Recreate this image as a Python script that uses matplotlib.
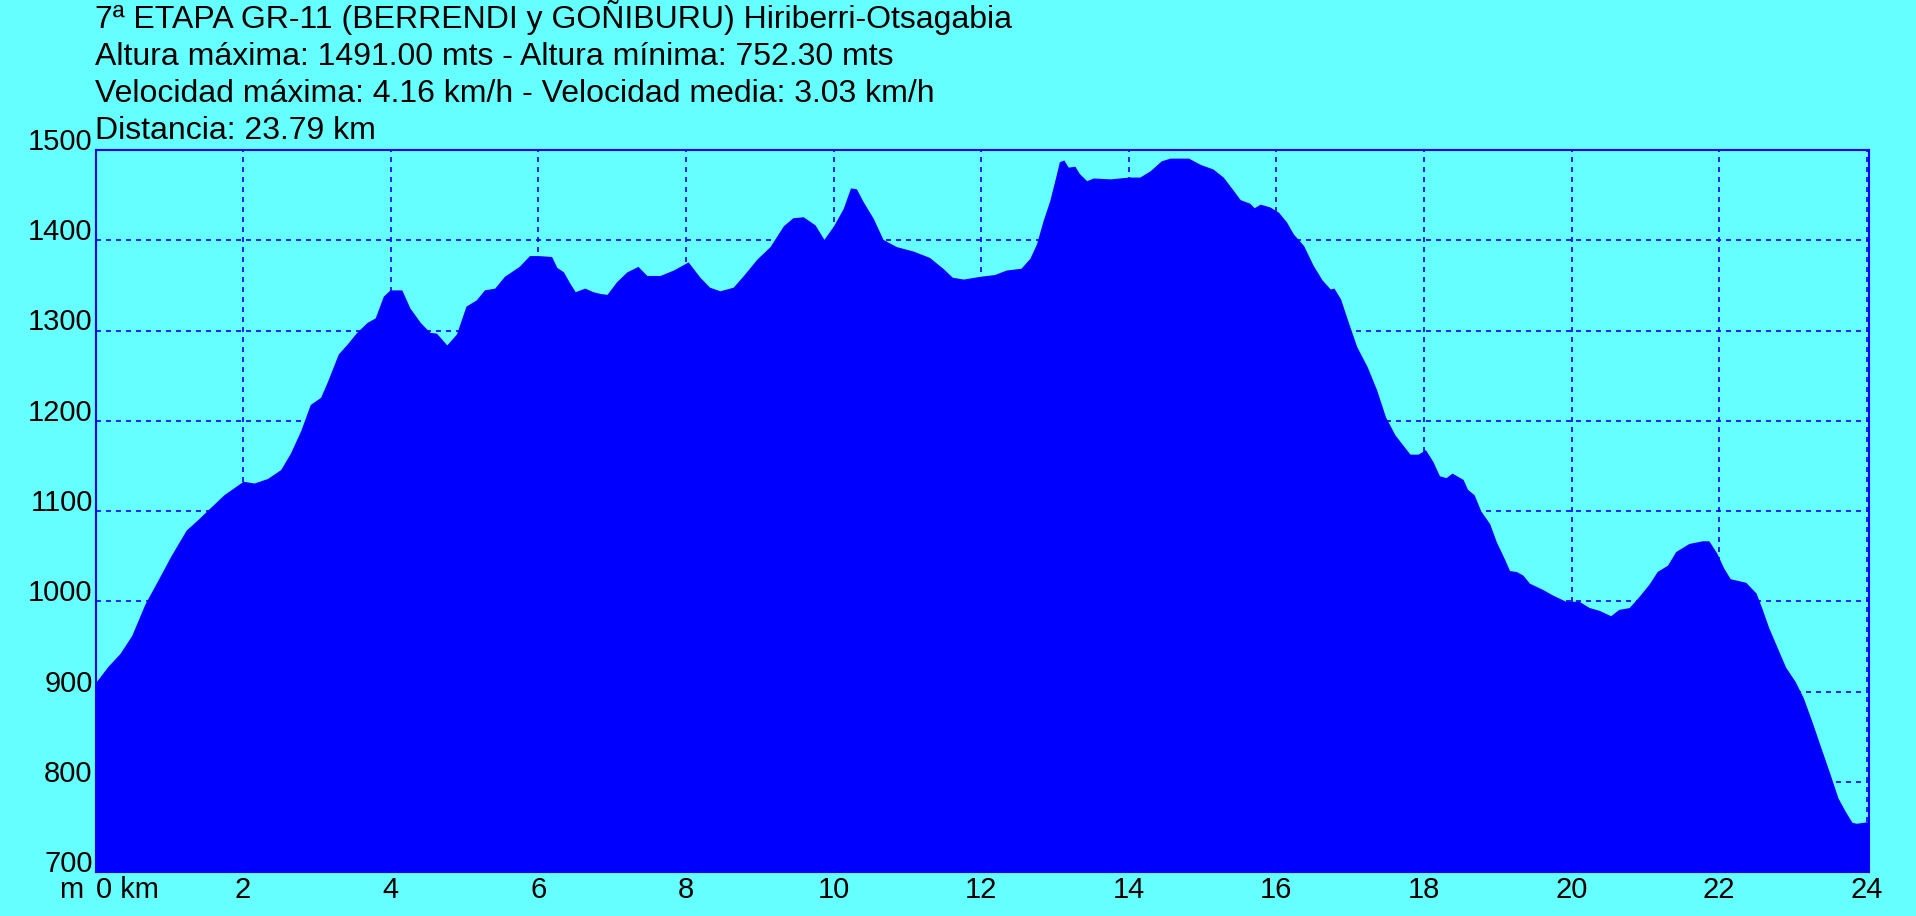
import matplotlib
matplotlib.use('Agg')
import matplotlib.pyplot as plt

plt.rcParams['font.family'] = ['Liberation Sans', 'DejaVu Sans']

# elevation profile (km, m)
dist_km = [0.0, 0.03, 0.17, 0.33, 0.49, 0.67, 0.85, 1.02, 1.23, 1.38, 1.52, 1.74,
           2.0, 2.15, 2.33, 2.51, 2.64, 2.78, 2.91, 3.05, 3.14, 3.29, 3.41, 3.54,
           3.68, 3.79, 3.90, 3.99, 4.15, 4.26, 4.40, 4.53, 4.62, 4.76, 4.89, 5.02,
           5.16, 5.27, 5.41, 5.54, 5.74, 5.88, 6.0, 6.18, 6.25, 6.34, 6.43, 6.50,
           6.63, 6.74, 6.84, 6.93, 7.06, 7.20, 7.35, 7.47, 7.65, 7.83, 8.03, 8.19,
           8.32, 8.46, 8.64, 8.78, 8.96, 9.14, 9.32, 9.45, 9.59, 9.75, 9.87, 10.0,
           10.13, 10.23, 10.31, 10.40, 10.54, 10.67, 10.85, 11.08, 11.30, 11.48,
           11.61, 11.76, 11.98, 12.18, 12.34, 12.54, 12.66, 12.75, 12.84, 12.93,
           13.01, 13.06, 13.12, 13.18, 13.27, 13.33, 13.43, 13.52, 13.75, 14.0,
           14.15, 14.29, 14.44, 14.56, 14.81, 14.97, 15.14, 15.28, 15.42, 15.51,
           15.64, 15.70, 15.78, 15.91, 16.03, 16.14, 16.23, 16.37, 16.50, 16.62,
           16.73, 16.78, 16.87, 16.98, 17.09, 17.23, 17.36, 17.48, 17.61, 17.81,
           17.92, 18.02, 18.12, 18.21, 18.30, 18.38, 18.53, 18.59, 18.68, 18.77,
           18.89, 18.98, 19.09, 19.16, 19.25, 19.34, 19.43, 19.61, 19.74, 19.92,
           20.10, 20.24, 20.37, 20.53, 20.64, 20.78, 20.91, 21.05, 21.16, 21.30,
           21.41, 21.59, 21.77, 21.86, 21.97, 22.06, 22.15, 22.36, 22.50, 22.58,
           22.67, 22.79, 22.90, 23.03, 23.14, 23.26, 23.39, 23.50, 23.61, 23.71,
           23.80, 23.86, 24.03]
elev_m = [910, 913, 928, 942, 962, 997, 1024, 1050, 1079, 1090, 1101, 1118,
          1133, 1131, 1136, 1146, 1164, 1189, 1218, 1226, 1243, 1274, 1285, 1298,
          1309, 1314, 1338, 1345, 1345, 1325, 1309, 1298, 1297, 1284, 1296, 1327,
          1334, 1345, 1347, 1360, 1371, 1383, 1383, 1382, 1370, 1365, 1352, 1343,
          1347, 1343, 1341, 1340, 1354, 1365, 1371, 1361, 1361, 1367, 1376, 1359,
          1348, 1344, 1348, 1361, 1379, 1393, 1416, 1425, 1426, 1417, 1401, 1416,
          1435, 1458, 1457, 1443, 1424, 1401, 1393, 1388, 1381, 1369,
          1359, 1357, 1360, 1362, 1367, 1369, 1380, 1396, 1422, 1444,
          1470, 1487, 1489, 1481, 1482, 1474, 1466, 1469, 1468, 1470,
          1470, 1477, 1488, 1491, 1491, 1484, 1479, 1470, 1455, 1445,
          1441, 1436, 1440, 1437, 1431, 1420, 1407, 1394, 1372, 1356,
          1346, 1347, 1335, 1308, 1282, 1260, 1234, 1204, 1184, 1163,
          1163, 1168, 1155, 1139, 1137, 1142, 1135, 1124, 1118, 1100,
          1086, 1066, 1047, 1034, 1033, 1029, 1020, 1013, 1007, 1000,
          1000, 993, 990, 984, 991, 993, 1005, 1019, 1033, 1040,
          1055, 1064, 1067, 1067, 1053, 1037, 1025, 1021, 1009, 992,
          971, 948, 927, 911, 893, 866, 835, 809, 782, 767,
          755, 754, 756]

x_ticks = [0, 2, 4, 6, 8, 10, 12, 14, 16, 18, 20, 22, 24]
x_labels = ['0 km', '2', '4', '6', '8', '10', '12', '14', '16', '18', '20', '22', '24']
y_ticks = [700, 800, 900, 1000, 1100, 1200, 1300, 1400, 1500]

title_lines = [
    '7ª ETAPA GR-11 (BERRENDI y GOÑIBURU) Hiriberri-Otsagabia',
    'Altura máxima: 1491.00 mts - Altura mínima: 752.30 mts',
    'Velocidad máxima: 4.16 km/h - Velocidad media: 3.03 km/h',
    'Distancia: 23.79 km',
]

bg = '#66FFFF'
blue = '#0000FF'

fig = plt.figure(figsize=(19.16, 9.16), dpi=100, facecolor=bg)
ax = fig.add_axes([95.5/1916, 44/916, (1869-95.5)/1916, (872-150)/916])
ax.set_facecolor(bg)

ax.fill_between(dist_km, elev_m, 700, color=blue, linewidth=0, zorder=3)

ax.set_xlim(0, 24.03)
ax.set_ylim(700, 1500)
ax.set_xticks(x_ticks)
ax.set_xticklabels(x_labels, fontsize=21)
ax.set_yticks(y_ticks)
ax.set_yticklabels([str(v) for v in y_ticks], fontsize=21)
ax.tick_params(length=0, pad=3)
ax.tick_params(axis='y', pad=2)
ax.get_xticklabels()[0].set_horizontalalignment('left')
for lbl in ax.get_yticklabels():
    lbl.set_verticalalignment('baseline')
ax.grid(True, color=blue, linestyle=(0, (3, 3)), linewidth=1.2, zorder=1)
ax.set_axisbelow(True)
for sp in ax.spines.values():
    sp.set_color(blue)
    sp.set_linewidth(1.5)
    sp.set_zorder(4)

ax.annotate('m', xy=(0, 0), xycoords='axes fraction', xytext=(-9, -3),
            textcoords='offset points', fontsize=21, ha='right', va='top')

for i, line in enumerate(title_lines):
    fig.text(95/1916, 1 - (28 + 37*i)/916, line, fontsize=23, ha='left', va='baseline')

fig.savefig('out.png', dpi=100, facecolor=bg)
